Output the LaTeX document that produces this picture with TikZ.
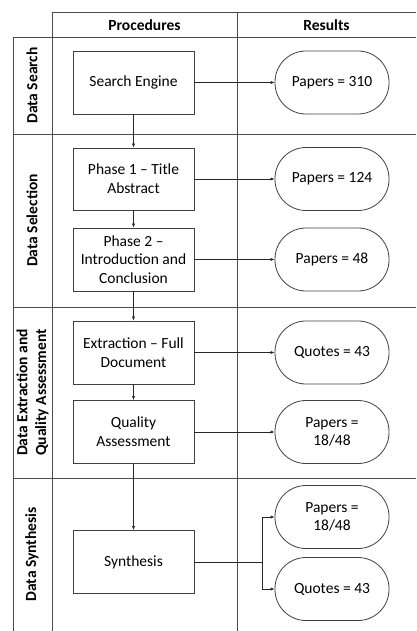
\documentclass[tikz,border=0pt]{standalone}
\usepackage{fontspec}
\setmainfont{Carlito}
\usetikzlibrary{arrows.meta}
\begin{document}
\begin{tikzpicture}[x=1pt,y=-1pt,
  grid/.style={draw=black!70,line width=0.8pt},
  proc/.style={draw=black!75,line width=0.8pt,minimum width=121pt,minimum height=63pt,align=center,inner sep=2pt,font=\fontsize{15.5}{18.7}\selectfont},
  pill/.style={draw=black!75,line width=0.8pt,minimum width=114pt,minimum height=63pt,rounded corners=31pt,align=center,inner sep=2pt,font=\fontsize{15.5}{18.7}\selectfont},
  rowlab/.style={rotate=90,align=center,font=\fontsize{15.5}{18.7}\selectfont\bfseries},
  hdr/.style={font=\fontsize{15.5}{18.7}\selectfont\bfseries},
  arr/.style={draw=black!85,line width=0.6pt,-{Latex[length=4pt,width=3.2pt]}}
]
\useasboundingbox (0,0) rectangle (416,631);
% table grid
\draw[grid] (52,12) -- (416,12);
\draw[grid] (13,37) -- (416,37);
\draw[grid] (13,134) -- (416,134);
\draw[grid] (13,307) -- (416,307);
\draw[grid] (13,478) -- (416,478);
\draw[grid] (13,37) -- (13,631);
\draw[grid] (52,12) -- (52,631);
\draw[grid] (237,12) -- (237,631);
% headers
\node[hdr] (hp) at (144.5,25) {Procedures};
\node[hdr] (hr) at (326.5,25) {Results};
% row labels
\node[rowlab] (l1) at (32,85.5) {Data Search};
\node[rowlab] (l2) at (32,220.5) {Data Selection};
\node[rowlab] (l3) at (32.5,392.5) {Data Extraction and\\Quality Assessment};
\node[rowlab] (l4) at (32,554.5) {Data Synthesis};
% procedures
\node[proc] (se) at (133.5,82.5) {Search Engine};
\node[proc,minimum height=62pt] (p1) at (133.5,179) {Phase 1 -- Title\\Abstract};
\node[proc] (p2) at (133.5,259.5) {Phase 2 --\\Introduction and\\Conclusion};
\node[proc] (ex) at (133.5,352.5) {Extraction -- Full\\Document};
\node[proc] (qa) at (133.5,432) {Quality\\Assessment};
\node[proc] (sy) at (133.5,562) {Synthesis};
% results
\node[pill] (r1) at (332,82.5) {Papers = 310};
\node[pill] (r2) at (332,179) {Papers = 124};
\node[pill] (r3) at (332,259.5) {Papers = 48};
\node[pill] (r4) at (332,352.5) {Quotes = 43};
\node[pill] (r5) at (332,432) {Papers =\\18/48};
\node[pill] (r6) at (332,517) {Papers =\\18/48};
\node[pill] (r7) at (332,589) {Quotes = 43};
% vertical flow
\draw[arr] (se) -- (p1);
\draw[arr] (p1) -- (p2);
\draw[arr] (p2) -- (ex);
\draw[arr] (ex) -- (qa);
\draw[arr] (qa) -- (sy);
% horizontal flow
\draw[arr] (se) -- (r1);
\draw[arr] (p1) -- (r2);
\draw[arr] (p2) -- (r3);
\draw[arr] (ex) -- (r4);
\draw[arr] (qa) -- (r5);
\coordinate (split) at (262,562);
\draw[draw=black!85,line width=0.6pt] (sy) -- (split);
\draw[arr] (split) |- (r6);
\draw[arr] (split) |- (r7);
\end{tikzpicture}
\end{document}
